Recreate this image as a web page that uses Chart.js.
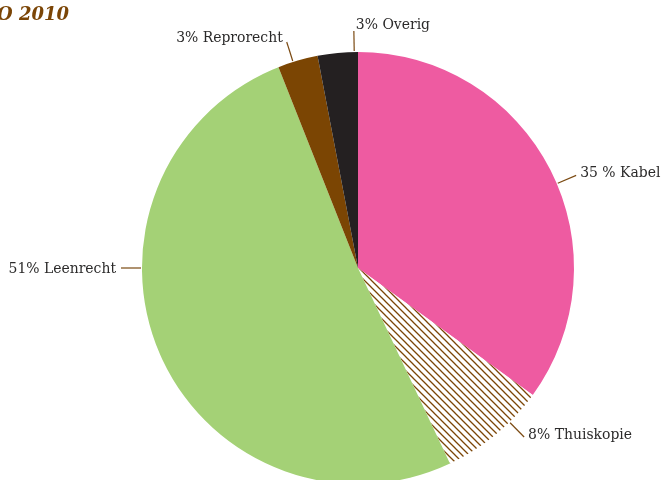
<!DOCTYPE html>
<html lang="nl">
<head>
<meta charset="utf-8">
<title>Inkomsten 2010</title>
<script src="https://cdn.jsdelivr.net/npm/chart.js"></script>
<style>
    html, body { margin: 0; padding: 0; background: #fff; overflow: hidden; }
    .wrap { position: relative; width: 662px; height: 500px; }
    .title {
        position: absolute; left: -3px; top: 3px;
        font: italic bold 18px "DejaVu Serif", serif;
        color: #7b4506; white-space: nowrap;
    }
</style>
</head>
<body>
<div class="wrap">
    <canvas id="pieChart"></canvas>
    <div class="title">O 2010</div>
</div>
<script>
// data, kloksgewijs vanaf 12 uur
const categories = ['Kabel', 'Thuiskopie', 'Leenrecht', 'Reprorecht', 'Overig'];
const shares = [35, 8, 51, 3, 3];
const labelTexts = ['35 % Kabel', '8% Thuiskopie', '51% Leenrecht', '3% Reprorecht', '3% Overig'];

// hoek van de aanwijslijn (graden vanaf boven) + tekst offset
const labelLayout = [
    { angle: 67, align: 'left', dx: 4, dy: -2 },
    { angle: 135.5, align: 'left', dx: 4, dy: -2 },
    { angle: 270, align: 'right', dx: -5, dy: 1 },
    { angle: -17.5, align: 'right', dx: -4, dy: -4 },
    { angle: -1, align: 'left', dx: 2, dy: -6 }
];

// arcering voor Thuiskopie
function makeHatch() {
    const s = 7;
    const c = document.createElement('canvas');
    c.width = s; c.height = s;
    const g = c.getContext('2d');
    g.fillStyle = '#ffffff';
    g.fillRect(0, 0, s, s);
    g.strokeStyle = '#7b4506';
    g.lineWidth = 1.3;
    g.beginPath();
    g.moveTo(0, 0); g.lineTo(s, s);
    g.moveTo(-1, s - 1); g.lineTo(1, s + 1);
    g.moveTo(s - 1, -1); g.lineTo(s + 1, 1);
    g.stroke();
    return g.createPattern(c, 'repeat');
}

// labels met aanwijslijntjes
const leaderLabels = {
    id: 'leaderLabels',
    afterDatasetsDraw(chart) {
        const ctx = chart.ctx;
        const arc = chart.getDatasetMeta(0).data[0];
        if (!arc) return;
        const cx = arc.x, cy = arc.y, r = arc.outerRadius;
        ctx.save();
        ctx.font = '15.5px "DejaVu Serif Condensed", "DejaVu Serif", serif';
        ctx.textBaseline = 'middle';
        labelTexts.forEach((txt, i) => {
            const l = labelLayout[i];
            const a = l.angle * Math.PI / 180;
            const x1 = cx + Math.sin(a) * (r + 1), y1 = cy - Math.cos(a) * (r + 1);
            const x2 = cx + Math.sin(a) * (r + 21), y2 = cy - Math.cos(a) * (r + 21);
            ctx.strokeStyle = '#7b4a12';
            ctx.lineWidth = 1.2;
            ctx.beginPath();
            ctx.moveTo(x1, y1);
            ctx.lineTo(x2, y2);
            ctx.stroke();
            ctx.fillStyle = '#2b2a2a';
            ctx.textAlign = l.align;
            ctx.fillText(txt, x2 + l.dx, y2 + l.dy);
        });
        ctx.restore();
    }
};

new Chart(document.getElementById('pieChart'), {
    type: 'pie',
    data: {
        labels: categories,
        datasets: [{
            data: shares,
            backgroundColor: ['#ee5ba1', makeHatch(), '#a4d176', '#7b4503', '#242021'],
            borderWidth: 0
        }]
    },
    options: {
        responsive: true,
        maintainAspectRatio: false,
        animation: false,
        layout: { padding: { left: 142, right: 88, top: 52, bottom: 16 } },
        plugins: {
            legend: { display: false },
            tooltip: { enabled: false }
        }
    },
    plugins: [leaderLabels]
});
</script>
</body>
</html>
